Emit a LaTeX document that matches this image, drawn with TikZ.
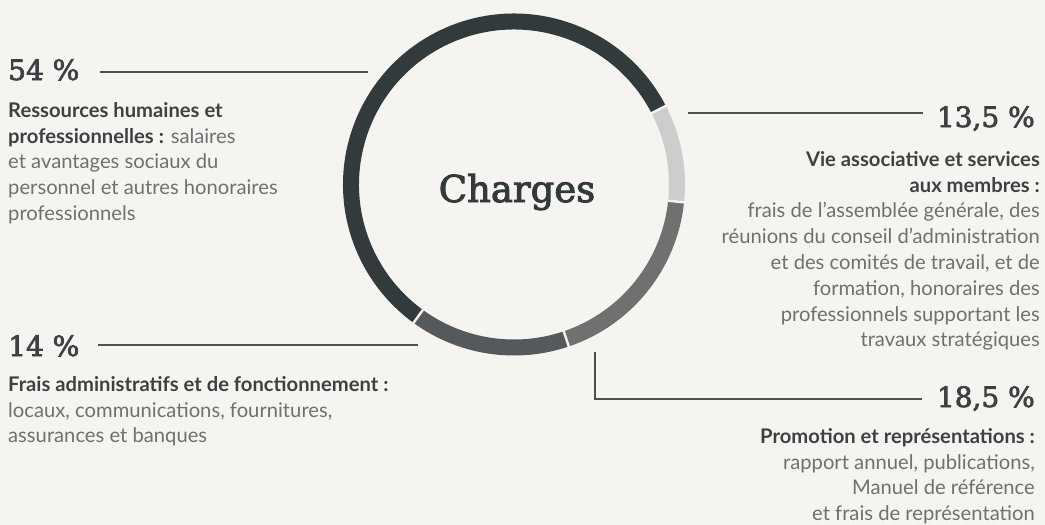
\documentclass[tikz,border=0pt]{standalone}
\usepackage{fontspec}
\setmainfont{Lato}
\newfontfamily\numfont[FakeBold=2.6]{DejaVu Serif}
\usetikzlibrary{positioning}
\definecolor{bgpaper}{HTML}{F5F4F1}
\definecolor{ringdark}{HTML}{323A3B}
\definecolor{ringslate}{HTML}{55595B}
\definecolor{ringmid}{HTML}{707071}
\definecolor{ringlight}{HTML}{CDCDCD}
\definecolor{titlegray}{HTML}{3C4243}
\definecolor{bodygray}{HTML}{6F7070}
\definecolor{linegray}{HTML}{4A5153}
\newcommand{\headtxt}[1]{{\bfseries\color{titlegray}#1}}
\tikzset {
    pct/.style={
        font=\numfont\fontsize{28}{30}\selectfont,
        text=titlegray,
        inner sep=0pt,
    },
    desc/.style={
        font=\fontsize{20.2}{25.8}\selectfont,
        text=bodygray,
        inner sep=0pt,
    },
    leader/.style={
        draw=linegray,
        line width=1.4pt,
    },
    segment/.style={
        line width=16pt,
    },
}
\begin{document}
\begin{tikzpicture}[x=1pt,y=-1pt]
    \fill[bgpaper] (0,0) rectangle (1045,525);
    \useasboundingbox (0,0) rectangle (1045,525);

    % ring
    \coordinate (ring) at (514,184.5);
    \foreach \from/\to/\col in {-27.4/-234/ringdark, -234/-288.7/ringslate, 71.3/6/ringmid, 6/-27.4/ringlight}
        \draw[segment, \col] ([shift={(\from:163)}]ring) arc[start angle=\from, end angle=\to, radius=163];
    \foreach \a in {-27.4, 6, 71.3, -234}
        \draw[bgpaper, line width=2.4pt] ([shift={(\a:152)}]ring) -- ([shift={(\a:174)}]ring);
    \node[font=\numfont\fontsize{37}{40}\selectfont, text=ringdark, anchor=base] (title) at (517,202) {Charges};

    % percentages
    \node[pct, anchor=base west] (hr) at (8,80) {54 \%};
    \node[pct, anchor=base east] (assoc) at (1035,127) {13,5 \%};
    \node[pct, anchor=base west] (admin) at (8,356) {14 \%};
    \node[pct, anchor=base east] (promo) at (1035,407) {18,5 \%};

    \coordinate (hr a) at (100,72);
    \coordinate (hr b) at (368,72);
    \coordinate (assoc a) at (923,113);
    \coordinate (assoc b) at (688,113);
    \coordinate (admin a) at (98,345);
    \coordinate (admin b) at (418,345);
    \coordinate (promo a) at (922,399);
    \coordinate (promo b) at (595,352);
    \draw[leader] (hr a) -- (hr b);
    \draw[leader] (assoc a) -- (assoc b);
    \draw[leader] (admin a) -- (admin b);
    \draw[leader] (promo a) -| (promo b);

    % descriptions
    \node[desc, anchor=north west, align=left] (hr text) at (8,102)
        {\headtxt{Ressources humaines et}\\\headtxt{professionnelles :} salaires\\et avantages sociaux du\\personnel et autres honoraires\\professionnels};
    \node[desc, anchor=north east, align=right] (assoc text) at (1040,151)
        {\headtxt{Vie associative et services}\\\headtxt{aux membres :}\\frais de l’assemblée générale, des\\réunions du conseil d’administration\\et des comités de travail, et de\\formation, honoraires des\\professionnels supportant les\\travaux stratégiques};
    \node[desc, anchor=north west, align=left] (admin text) at (8,376)
        {\headtxt{Frais administratifs et de fonctionnement :}\\locaux, communications, fournitures,\\assurances et banques};
    \node[desc, anchor=north east, align=right] (promo text) at (1035,428)
        {\headtxt{Promotion et représentations :}\\rapport annuel, publications,\\Manuel de référence\\et frais de représentation};
\end{tikzpicture}
\end{document}
